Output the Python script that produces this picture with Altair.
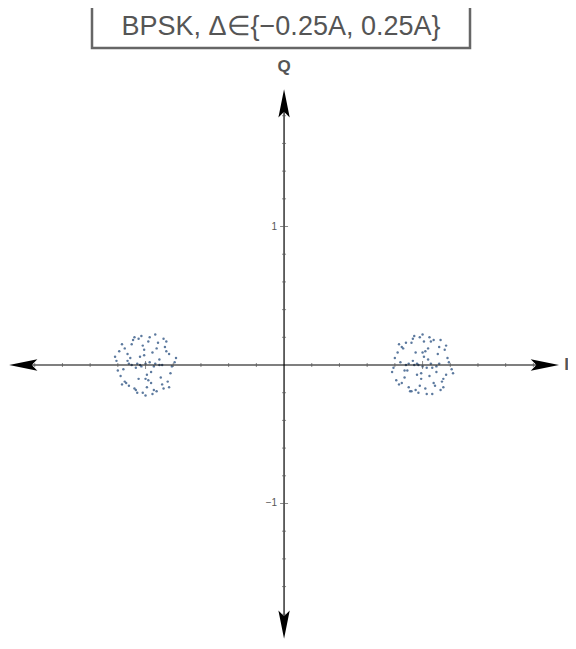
import altair as alt
import pandas as pd

# constellation points (I, Q)
left_i = [-1.21, -1.18, -1.15, -1.12, -1.09, -1.06, -1.03, -1.0, -0.97, -0.94, -0.91, -0.88, -0.85, -0.82, -0.79,
          -1.19, -1.14, -1.1, -1.05, -1.01, -0.96, -0.92, -0.87, -0.83, -1.16, -1.11, -1.07, -1.02, -0.98, -0.93,
          -0.89, -0.84, -1.13, -1.08, -1.04, -0.99, -0.95, -0.9, -0.86, -1.2, -1.17, -0.81, -1.0, -1.06, -0.94,
          -1.1, -0.9, -1.03, -0.97, -1.12, -0.88, -1.01, -0.99, -1.05, -0.95, -1.08, -0.92, -1.15, -0.85, -1.0,
          -1.22, -0.78, -1.17, -0.83, -1.13, -0.87, -1.07, -0.93, -1.04, -0.96, -1.02, -0.98]
left_q = [0.03, -0.08, 0.12, -0.15, 0.18, -0.2, 0.21, -0.22, 0.2, -0.18, 0.16, -0.14, 0.1, -0.06, 0.02,
          0.1, -0.13, 0.15, -0.1, 0.07, -0.05, 0.12, -0.17, 0.08, -0.03, 0.05, -0.02, 0.14, -0.11, 0.01,
          -0.09, -0.12, 0.08, -0.17, 0.0, -0.07, 0.09, 0.04, 0.13, -0.04, 0.15, -0.01, 0.01, 0.01, -0.01,
          0.0, 0.0, -0.01, 0.02, 0.01, 0.0, 0.11, -0.16, 0.19, -0.21, 0.2, -0.19, -0.12, 0.17, -0.1,
          0.06, 0.05, -0.14, -0.16, 0.03, 0.19, -0.18, 0.22, 0.06, -0.13, -0.2, 0.17]
right_i = [0.79, 0.82, 0.85, 0.88, 0.91, 0.94, 0.97, 1.0, 1.03, 1.06, 1.09, 1.12, 1.15, 1.18, 1.21,
           0.81, 0.86, 0.9, 0.95, 0.99, 1.04, 1.08, 1.13, 1.17, 0.84, 0.89, 0.93, 0.98, 1.02, 1.07,
           1.11, 1.16, 0.87, 0.92, 0.96, 1.01, 1.05, 1.1, 1.14, 0.8, 0.83, 1.19, 1.0, 0.94, 1.06,
           0.9, 1.1, 0.97, 1.03, 0.88, 1.12, 0.99, 1.01, 0.95, 1.05, 0.92, 1.08, 0.85, 1.15, 1.0,
           0.78, 1.22, 0.83, 1.17, 0.87, 1.13, 0.93, 1.07, 0.96, 1.04, 0.98, 1.02]
right_q = [-0.02, 0.09, -0.13, 0.16, -0.19, 0.21, -0.2, 0.22, -0.21, 0.17, -0.15, 0.13, -0.1, 0.05, -0.03,
           -0.11, 0.12, -0.16, 0.09, -0.06, 0.04, -0.13, 0.18, -0.07, 0.02, -0.04, 0.03, -0.15, 0.1, -0.02,
           0.08, 0.11, -0.09, 0.16, 0.01, 0.06, -0.08, -0.05, -0.12, 0.05, -0.14, 0.02, -0.01, 0.0, 0.01,
           0.01, -0.01, 0.0, -0.02, 0.0, 0.01, -0.1, 0.17, -0.18, 0.2, -0.19, 0.18, 0.13, -0.16, 0.09,
           -0.05, -0.06, 0.15, 0.14, -0.04, -0.18, 0.19, -0.21, -0.07, 0.12, 0.2, -0.17]

minor_ticks = [-1.8, -1.6, -1.4, -1.2, -0.8, -0.6, -0.4, -0.2, 0.2, 0.4, 0.6, 0.8, 1.2, 1.4, 1.6, 1.8]
major_ticks = [-1, 1]
tick_labels = ["\u22121", "1"]

pts = pd.DataFrame({"i": left_i + right_i, "q": left_q + right_q})

xs = alt.Scale(domain=[-1.993, 2.05], nice=False, zero=False)
ys = alt.Scale(domain=[-1.993, 2.578], nice=False, zero=False)
X = lambda f: alt.X(f, scale=xs, axis=None)
Y = lambda f: alt.Y(f, scale=ys, axis=None)

scatter = alt.Chart(pts).mark_circle(size=6, opacity=0.9, color="#4a6a94").encode(x=X("i:Q"), y=Y("q:Q"))

axes_df = pd.DataFrame({"x": [-1.9, 0], "x2": [1.9, 0], "y": [0, -1.9], "y2": [0, 1.9]})
axes = alt.Chart(axes_df).mark_rule(color="black", strokeWidth=1.2).encode(
    x=X("x:Q"), x2="x2:Q", y=Y("y:Q"), y2="y2:Q")

arrow_up = "M0,-1 L0.4,1 L0,0.6 L-0.4,1 Z"
arrow_down = "M0,1 L0.4,-1 L0,-0.6 L-0.4,-1 Z"
arrow_left = "M-1,0 L1,0.4 L0.6,0 L1,-0.4 Z"
arrow_right = "M1,0 L-1,0.4 L-0.6,0 L-1,-0.4 Z"
arrows = []
for (ax, ay, shp) in [(0, 1.89, arrow_up), (0, -1.875, arrow_down), (-1.883, 0, arrow_left), (1.883, 0, arrow_right)]:
    arrows.append(alt.Chart(pd.DataFrame({"x": [ax], "y": [ay]})).mark_point(
        shape=shp, filled=True, color="black", opacity=1, size=800).encode(x=X("x:Q"), y=Y("y:Q")))

tdf = pd.DataFrame({"v": minor_ticks, "z": 0})
mdf = pd.DataFrame({"v": major_ticks, "z": 0, "t": tick_labels})
xtick = alt.Chart(tdf).mark_tick(orient="vertical", size=4, color="#555", thickness=1).encode(x=X("v:Q"), y=Y("z:Q"))
ytick = alt.Chart(tdf).mark_tick(orient="horizontal", size=4, color="#555", thickness=1).encode(y=Y("v:Q"), x=X("z:Q"))
xmaj = alt.Chart(mdf).mark_tick(orient="vertical", size=8, color="#555", thickness=1).encode(x=X("v:Q"), y=Y("z:Q"))
ymaj = alt.Chart(mdf).mark_tick(orient="horizontal", size=8, color="#555", thickness=1).encode(y=Y("v:Q"), x=X("z:Q"))
ylab = alt.Chart(mdf).mark_text(align="right", dx=-7, fontSize=10, color="#555", font="Arial").encode(
    y=Y("v:Q"), x=X("z:Q"), text="t:N")

lab_df = pd.DataFrame({"x": [0, 2.04], "y": [2.15, 0], "t": ["Q", "I"]})
labels = alt.Chart(lab_df).mark_text(fontSize=17, fontWeight="bold", color="#555", font="Arial", align="center").encode(
    x=X("x:Q"), y=Y("y:Q"), text="t:N")

box = alt.Chart(pd.DataFrame({"a": [0]})).mark_rect(fill="white", stroke="#666", strokeWidth=2.5).encode(
    x=alt.value(84), x2=alt.value(462), y=alt.value(-2), y2=alt.value(40))
title = alt.Chart(pd.DataFrame({"t": ["BPSK, \u0394\u2208{\u22120.25A, 0.25A}"]})).mark_text(
    fontSize=27, color="#555", font="Arial", align="center", baseline="middle").encode(
    x=alt.value(273), y=alt.value(19), text="t:N")

chart = alt.layer(scatter, axes, *arrows, xtick, ytick, xmaj, ymaj, ylab, labels, box, title).properties(
    width=560, height=633, padding=0, autosize="none"
).configure_view(stroke=None)

chart.save("out.html", embed_options={"renderer": "svg", "actions": False})
